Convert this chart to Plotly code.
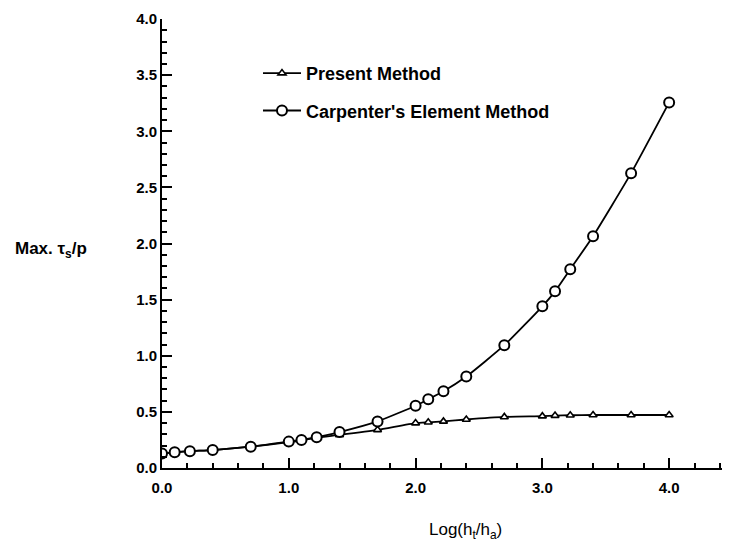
import plotly.graph_objects as go

# Data
log_ratio = [0, 0.1, 0.22, 0.4, 0.7, 1.0, 1.1, 1.22, 1.4, 1.7, 2.0, 2.1, 2.22, 2.4, 2.7, 3.0, 3.1, 3.22, 3.4, 3.7, 4.0]
present_method = [0.13, 0.14, 0.15, 0.16, 0.19, 0.23, 0.245, 0.27, 0.295, 0.34, 0.40, 0.407, 0.415, 0.432, 0.455,
                  0.462, 0.467, 0.47, 0.472, 0.472, 0.472]
carpenter_method = [0.13, 0.14, 0.15, 0.16, 0.19, 0.235, 0.25, 0.275, 0.32, 0.415, 0.555, 0.612, 0.683, 0.815, 1.094,
                    1.441, 1.574, 1.771, 2.065, 2.627, 3.257]
series_names = ["Present Method", "Carpenter's Element Method"]

FONT = "Liberation Sans, Arial, Helvetica, sans-serif"

fig = go.Figure()
fig.add_trace(go.Scatter(
    x=log_ratio, y=present_method, mode="lines+markers", name=series_names[0],
    legendgroup="a",
    line=dict(color="black", width=1.8, shape="spline", smoothing=0.5),
    marker=dict(symbol="triangle-up", size=7, color="white", line=dict(color="black", width=1.6)),
))
fig.add_trace(go.Scatter(
    x=log_ratio, y=carpenter_method, mode="lines+markers", name=series_names[1],
    legendgroup="b",
    line=dict(color="black", width=1.8, shape="spline", smoothing=0.5),
    marker=dict(symbol="circle", size=10, color="white", line=dict(color="black", width=2)),
))

fig.update_layout(
    width=730, height=550,
    margin=dict(l=154, r=8, t=11, b=90),
    paper_bgcolor="white", plot_bgcolor="white",
    font=dict(family=FONT, color="black"),
    showlegend=True,
    legend=dict(
        x=0.169, y=0.92, xanchor="left", yanchor="top",
        bgcolor="rgba(0,0,0,0)",
        font=dict(family=FONT, size=18, weight="bold", color="black"),
        tracegroupgap=11,
        itemwidth=38,
    ),
    xaxis=dict(
        range=[0, 4.48], showline=True, linecolor="black", linewidth=2,
        ticks="inside", ticklen=10, tickwidth=2, tickcolor="black",
        tick0=0, dtick=1, tickformat=".1f",
        tickfont=dict(family=FONT, size=15, weight="bold"),
        ticklabelstandoff=5,
        automargin=False,
        showgrid=False, zeroline=False,
        minor=dict(dtick=0.2, tick0=0, ticks="inside", ticklen=5, tickwidth=1.5, tickcolor="black", showgrid=False),
    ),
    yaxis=dict(
        range=[0, 4.0005], showline=True, linecolor="black", linewidth=2,
        ticks="inside", ticklen=10, tickwidth=2, tickcolor="black",
        tick0=0, dtick=0.5, tickformat=".1f",
        tickfont=dict(family=FONT, size=15, weight="bold"),
        ticklabelstandoff=0,
        ticklabeloverflow="allow",
        automargin=False,
        showgrid=False, zeroline=False,
        minor=dict(dtick=0.1, tick0=0, ticks="inside", ticklen=5, tickwidth=1.5, tickcolor="black", showgrid=False),
    ),
    annotations=[
        dict(text="Max. τ<sub>s</sub>/p", xref="paper", yref="paper", x=-0.262, y=0.486,
             xanchor="left", yanchor="middle", showarrow=False,
             font=dict(family=FONT, size=17, weight="bold", color="black")),
        dict(text="Log(h<sub>t</sub>/h<sub>a</sub>)", xref="paper", yref="paper", x=0.535, y=-0.14,
             xanchor="center", yanchor="middle", showarrow=False,
             font=dict(family=FONT, size=17, color="black")),
    ],
)

fig.write_html("out.html")
